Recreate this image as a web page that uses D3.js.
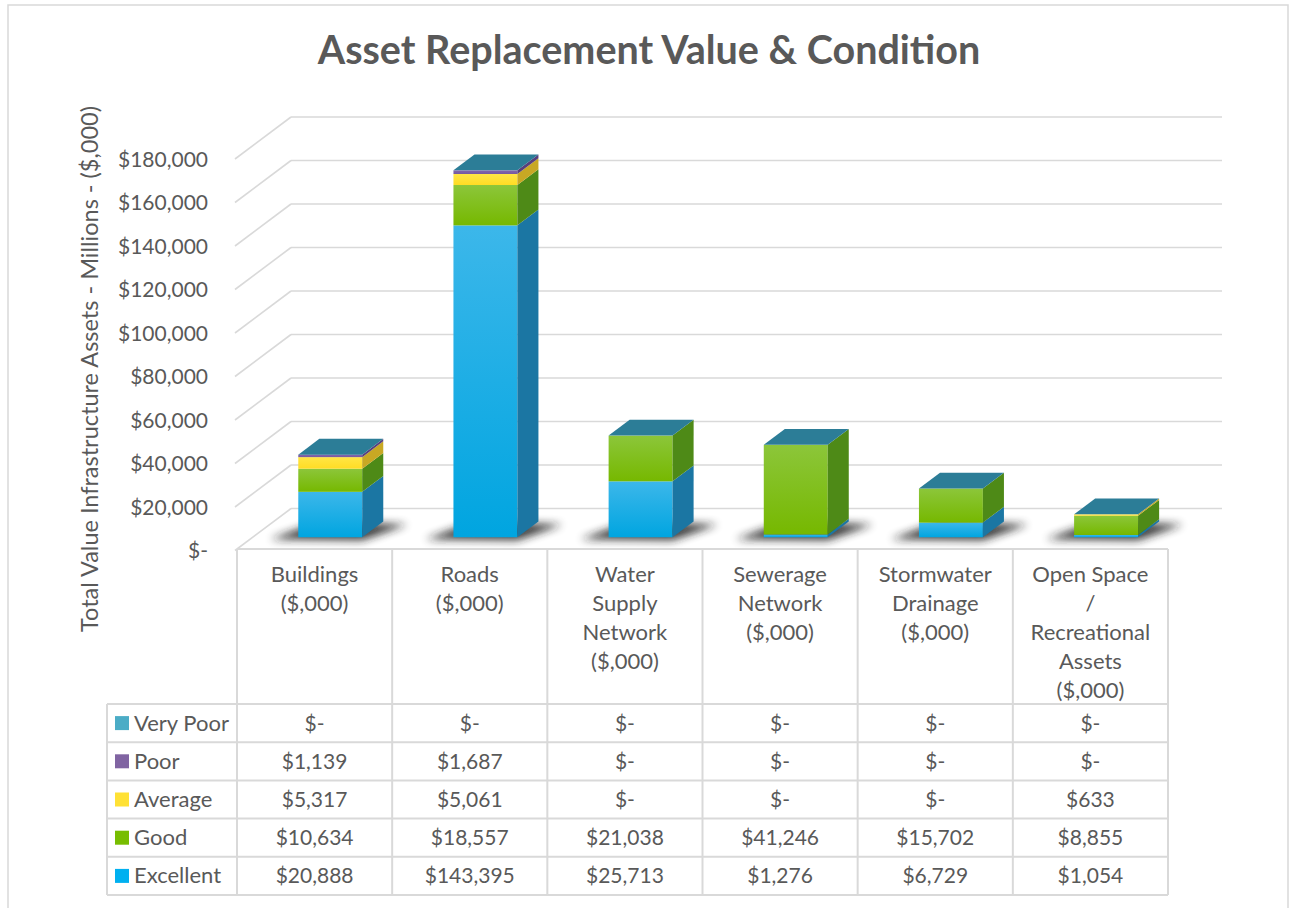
<!DOCTYPE html>
<html>
<head>
<meta charset="utf-8">
<script src="https://cdn.jsdelivr.net/npm/d3@7"></script>
<style>
  html, body { margin: 0; padding: 0; background: #fff; }
  svg { display: block; }
  text { font-family: Lato, "Open Sans", sans-serif; fill: #595959; }
</style>
</head>
<body>
<svg id="chart" width="1290" height="908"></svg>
<script>
// ---------------- DATA ----------------
const categories = ["Buildings", "Roads", "Water Supply Network", "Sewerage Network", "Stormwater Drainage", "Open Space / Recreational Assets"];
const categoryLines = [
  ["Buildings", "($,000)"],
  ["Roads", "($,000)"],
  ["Water", "Supply", "Network", "($,000)"],
  ["Sewerage", "Network", "($,000)"],
  ["Stormwater", "Drainage", "($,000)"],
  ["Open Space", "/", "Recreational", "Assets", "($,000)"]
];
const seriesNames = ["Excellent", "Good", "Average", "Poor", "Very Poor"];
const excellent = [20888, 143395, 25713, 1276, 6729, 1054];
const good      = [10634, 18557, 21038, 41246, 15702, 8855];
const average   = [5317, 5061, 0, 0, 0, 633];
const poor      = [1139, 1687, 0, 0, 0, 0];
const veryPoor  = [0, 0, 0, 0, 0, 0];
const yTicks = [0, 20000, 40000, 60000, 80000, 100000, 120000, 140000, 160000, 180000];
const titleText = "Asset Replacement Value & Condition";
const yAxisTitle = "Total Value Infrastructure Assets - Millions - ($,000)";

// ---------------- STYLE ----------------
const seriesValues = [excellent, good, average, poor, veryPoor];
const frontTop  = ["#3cb7ea", "#8cc63a", "#ffe645", "#8466ad", "#4bacc6"];
const frontBot  = ["#00a5e0", "#76b800", "#ffdc24", "#7559a0", "#4bacc6"];
const sideCol   = ["#1b76a3", "#4e8a17", "#c8a824", "#57407d", "#2e7f99"];
const legendCol = ["#00b0f0", "#77bd00", "#ffe135", "#8064a2", "#4bacc6"];
const topFaceColor = "#2c7d97";
const gridColor = "#d9d9d9";

const svg = d3.select("#chart");
const defs = svg.append("defs");

// Geometry
const floorLeft = 237, floorRight = 1168, floorFrontY = 549;
const depth = { x: 54, y: -40.5 };
const t0 = 0.29, t1 = 0.68;

const x = d3.scaleBand().domain(categories).range([floorLeft, floorRight]).paddingInner(0).paddingOuter(0);
const y = d3.scaleLinear().domain([0, 180000]).range([floorFrontY, 157.5]);
const barFrac = 0.412;

// gradients
seriesNames.forEach((n, i) => {
  const g = defs.append("linearGradient").attr("id", "fg" + i).attr("x1", 0).attr("y1", 0).attr("x2", 0).attr("y2", 1);
  g.append("stop").attr("offset", "0%").attr("stop-color", frontTop[i]);
  g.append("stop").attr("offset", "100%").attr("stop-color", frontBot[i]);
});
const blur = defs.append("filter").attr("id", "blur").attr("x", "-50%").attr("y", "-100%").attr("width", "200%").attr("height", "300%");
blur.append("feGaussianBlur").attr("stdDeviation", 4.5);

// Border
svg.append("rect").attr("x", 8).attr("y", 5).attr("width", 1280).attr("height", 920)
  .attr("fill", "#fff").attr("stroke", gridColor).attr("stroke-width", 1.5);

// Title
svg.append("text").attr("x", 649).attr("y", 64).attr("text-anchor", "middle")
  .style("font-size", "39.5px").style("font-weight", "bold").text(titleText);

// Gridlines (back wall + left wall)
const grid = svg.append("g");
yTicks.forEach(v => {
  const yf = y(v);
  grid.append("line").attr("x1", floorLeft + depth.x).attr("x2", floorRight + depth.x)
    .attr("y1", yf + depth.y).attr("y2", yf + depth.y)
    .attr("stroke", gridColor).attr("stroke-width", 1.6);
  grid.append("line").attr("x1", floorLeft - 2).attr("y1", yf + 1.5)
    .attr("x2", floorLeft + depth.x).attr("y2", yf + depth.y)
    .attr("stroke", gridColor).attr("stroke-width", 1.6);
});

// Y axis
const yAxis = d3.axisLeft(y).tickValues(yTicks).tickSize(0).tickPadding(0)
  .tickFormat(v => v === 0 ? "$-" : d3.format("$,")(v));
const ag = svg.append("g").attr("transform", "translate(208,2)").call(yAxis);
ag.select(".domain").remove();
ag.selectAll("text").style("font-size", "21px").style("font-family", "Lato, sans-serif").attr("fill", "#595959");

// Y axis title
svg.append("text").attr("transform", "translate(98,369) rotate(-90)").attr("text-anchor", "middle")
  .style("font-size", "23.5px").text(yAxisTitle);

// Stack
const stackData = categories.map((c, i) => {
  const o = { cat: c };
  seriesNames.forEach((s, k) => o[s] = seriesValues[k][i]);
  return o;
});
const stacked = d3.stack().keys(seriesNames)(stackData);

const bw = x.bandwidth() * barFrac;
const off0 = { x: depth.x * t0, y: depth.y * t0 };
const dd = { x: depth.x * (t1 - t0), y: depth.y * (t1 - t0) };

const barsG = svg.append("g");
categories.forEach((c, i) => {
  const xf = x(c) + x.bandwidth() / 2 - bw / 2 + off0.x;
  const g = barsG.append("g");
  const yb = y(0) + off0.y;
  // shadow
  const FL = [xf, yb], FR = [xf + bw, yb], BR = [xf + bw + dd.x, yb + dd.y], BL = [xf + dd.x, yb + dd.y];
  g.append("path").attr("d", `M${FL[0]-28},${FL[1]+2} L${FR[0]},${FR[1]+3} L${BR[0]+24},${BR[1]+3} L${BL[0]},${BL[1]} Z`)
    .attr("fill", "#1e1e1e").attr("opacity", 0.85).attr("filter", "url(#blur)");
  stacked.forEach((layer, k) => {
    const d = layer[i];
    const yTop = y(d[1]) + off0.y, yBot = y(d[0]) + off0.y;
    if (yBot - yTop > 0.01) {
      g.append("rect").attr("x", xf).attr("y", yTop).attr("width", bw).attr("height", yBot - yTop)
        .attr("fill", `url(#fg${k})`);
      g.append("path").attr("d", `M${xf + bw},${yTop} L${xf + bw + dd.x},${yTop + dd.y} L${xf + bw + dd.x},${yBot + dd.y} L${xf + bw},${yBot} Z`)
        .attr("fill", sideCol[k]);
    }
  });
  // top face (of the last stacked series)
  const last = stacked[stacked.length - 1][i];
  const yT = y(last[1]) + off0.y;
  g.append("path").attr("d", `M${xf},${yT} L${xf + bw},${yT} L${xf + bw + dd.x},${yT + dd.y} L${xf + dd.x},${yT + dd.y} Z`)
    .attr("fill", topFaceColor);
});

// Data table
const tableTop = floorFrontY, headerBottom = 704, rowH = 38.2, legendLeft = 107;
const rowOrder = [4, 3, 2, 1, 0]; // Very Poor first
const tbl = svg.append("g");
const tableBottom = headerBottom + rowH * rowOrder.length;
// horizontal lines
tbl.append("line").attr("x1", floorLeft).attr("x2", floorRight).attr("y1", tableTop).attr("y2", tableTop)
  .attr("stroke", gridColor).attr("stroke-width", 2);
for (let r = 0; r <= rowOrder.length; r++) {
  const yy = headerBottom + r * rowH;
  tbl.append("line").attr("x1", legendLeft).attr("x2", floorRight).attr("y1", yy).attr("y2", yy)
    .attr("stroke", gridColor).attr("stroke-width", 2);
}
// vertical lines
tbl.append("line").attr("x1", legendLeft).attr("x2", legendLeft).attr("y1", headerBottom).attr("y2", tableBottom)
  .attr("stroke", gridColor).attr("stroke-width", 2);
categories.forEach(c => {
  tbl.append("line").attr("x1", x(c)).attr("x2", x(c)).attr("y1", tableTop).attr("y2", tableBottom)
    .attr("stroke", gridColor).attr("stroke-width", 2);
});
tbl.append("line").attr("x1", floorRight).attr("x2", floorRight).attr("y1", tableTop).attr("y2", tableBottom)
  .attr("stroke", gridColor).attr("stroke-width", 2);

// category labels
categories.forEach((c, i) => {
  const t = tbl.append("text").attr("text-anchor", "middle").style("font-size", "22px");
  categoryLines[i].forEach((ln, j) => {
    t.append("tspan").attr("x", x(c) + x.bandwidth() / 2).attr("y", 582 + j * 29).text(ln);
  });
});

// rows
const fmt = v => v === 0 ? "$-" : d3.format("$,")(v);
rowOrder.forEach((k, r) => {
  const cy = headerBottom + r * rowH + rowH / 2;
  tbl.append("rect").attr("x", 115).attr("y", cy - 7).attr("width", 14).attr("height", 14).attr("fill", legendCol[k]);
  tbl.append("text").attr("x", 134).attr("y", cy + 7.5).style("font-size", "22px").text(seriesNames[k]);
  categories.forEach((c, i) => {
    tbl.append("text").attr("x", x(c) + x.bandwidth() / 2).attr("y", cy + 7.5).attr("text-anchor", "middle")
      .style("font-size", "21px").text(fmt(seriesValues[k][i]));
  });
});
</script>
</body>
</html>
